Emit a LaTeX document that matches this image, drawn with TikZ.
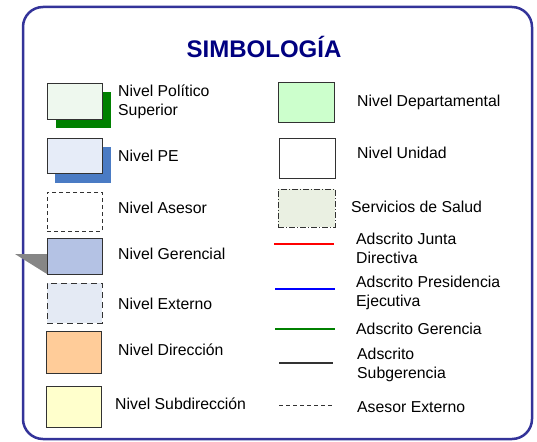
\documentclass[tikz,border=0pt]{standalone}
\usepackage{fontspec}
\setmainfont{Liberation Sans}
\usepackage{tikz}
\usetikzlibrary{positioning}

\definecolor{marco}{RGB}{51,51,153}
\definecolor{titulo}{RGB}{0,0,128}
\definecolor{verdesombra}{RGB}{0,128,0}
\definecolor{azulsombra}{RGB}{74,123,196}
\definecolor{polsupfill}{RGB}{238,248,238}
\definecolor{pefill}{RGB}{230,236,248}
\definecolor{gerfill}{RGB}{180,194,228}
\definecolor{extfill}{RGB}{228,234,244}
\definecolor{dirfill}{RGB}{255,204,153}
\definecolor{subfill}{RGB}{255,255,204}
\definecolor{deptofill}{RGB}{204,255,204}
\definecolor{saludfill}{RGB}{234,240,226}
\definecolor{borde}{RGB}{50,50,50}

\tikzset{
  caja/.style={draw=borde,line width=0.9pt,inner sep=0pt},
  sombra/.style={inner sep=0pt},
  etiqueta/.style={anchor=west,inner sep=0pt,align=left,
    font=\fontsize{15.8}{19}\selectfont},
  linea/.style={line width=1.3pt}
}

\begin{document}
\begin{tikzpicture}[x=1pt,y=-1pt]
  \useasboundingbox (0,0) rectangle (537,441);
  % marco y titulo
  \draw[marco,line width=2.5pt,rounded corners=20pt] (23,7) rectangle (532,439);
  \node[font=\fontsize{24}{28}\selectfont\bfseries,text=titulo] (titulo) at (264,47) {SIMBOLOGÍA};

  % columna izquierda
  \node[sombra,fill=verdesombra,minimum width=55pt,minimum height=36pt] (polsupsh) at (83.5,110) {};
  \node[caja,fill=polsupfill,minimum width=55pt,minimum height=36pt] (polsup) at (74.5,101) {};
  \node[etiqueta] (polsuptxt) at (118,101.5) {Nivel Político\\Superior};

  \node[sombra,fill=azulsombra,minimum width=56pt,minimum height=36pt] (pesh) at (83,165) {};
  \node[caja,fill=pefill,minimum width=55pt,minimum height=35pt] (pe) at (74.5,155.5) {};
  \node[etiqueta] (petxt) at (118,156) {Nivel PE};

  \node[caja,dashed,dash pattern=on 4pt off 3pt,fill=white,minimum width=55pt,minimum height=39pt] (asesor) at (74.5,211.5) {};
  \node[etiqueta] (asesortxt) at (118,208) {Nivel Asesor};

  \fill[gray!95] (15,254) -- (47,254) -- (47,274) -- cycle;
  \node[caja,fill=gerfill,minimum width=55pt,minimum height=36pt] (gerencial) at (74.5,256) {};
  \node[etiqueta] (gerencialtxt) at (118,254) {Nivel Gerencial};

  \node[caja,dashed,dash pattern=on 6pt off 4pt,fill=extfill,minimum width=55pt,minimum height=40pt] (externo) at (74.5,303) {};
  \node[etiqueta] (externotxt) at (118,304) {Nivel Externo};

  \node[caja,fill=dirfill,minimum width=55pt,minimum height=42pt] (direccion) at (73.5,352) {};
  \node[etiqueta] (direcciontxt) at (118,350) {Nivel Dirección};

  \node[caja,fill=subfill,minimum width=55pt,minimum height=41pt] (subdir) at (73.5,406.5) {};
  \node[etiqueta] (subdirtxt) at (115,404) {Nivel Subdirección};

  % columna derecha
  \node[caja,fill=deptofill,minimum width=56pt,minimum height=40pt] (depto) at (306.5,102) {};
  \node[etiqueta] (deptotxt) at (357,102) {Nivel Departamental};

  \node[caja,fill=white,minimum width=56pt,minimum height=40pt] (unidad) at (307,158) {};
  \node[etiqueta] (unidadtxt) at (357,153) {Nivel Unidad};

  \node[caja,dash pattern=on 6pt off 2pt on 1pt off 2pt,fill=saludfill,minimum width=57pt,minimum height=38pt] (salud) at (306.5,208) {};
  \node[etiqueta] (saludtxt) at (351,207) {Servicios de Salud};

  \draw[linea,red] (274,244) -- (334,244);
  \node[etiqueta] (juntatxt) at (356,248) {Adscrito Junta\\Directiva};

  \draw[linea,blue] (275,289) -- (335,289);
  \node[etiqueta] (presidtxt) at (356,292.5) {Adscrito Presidencia\\Ejecutiva};

  \draw[linea,verdesombra] (275,329) -- (335,329);
  \node[etiqueta] (gerenciatxt) at (356,329) {Adscrito Gerencia};

  \draw[line width=1.1pt,borde] (279,363) -- (333,363);
  \node[etiqueta] (subgertxt) at (357,364.5) {Adscrito\\Subgerencia};

  \draw[line width=0.9pt,borde,dash pattern=on 4pt off 3pt] (279,405) -- (333,405);
  \node[etiqueta] (asesorexttxt) at (357,407) {Asesor Externo};
\end{tikzpicture}
\end{document}
